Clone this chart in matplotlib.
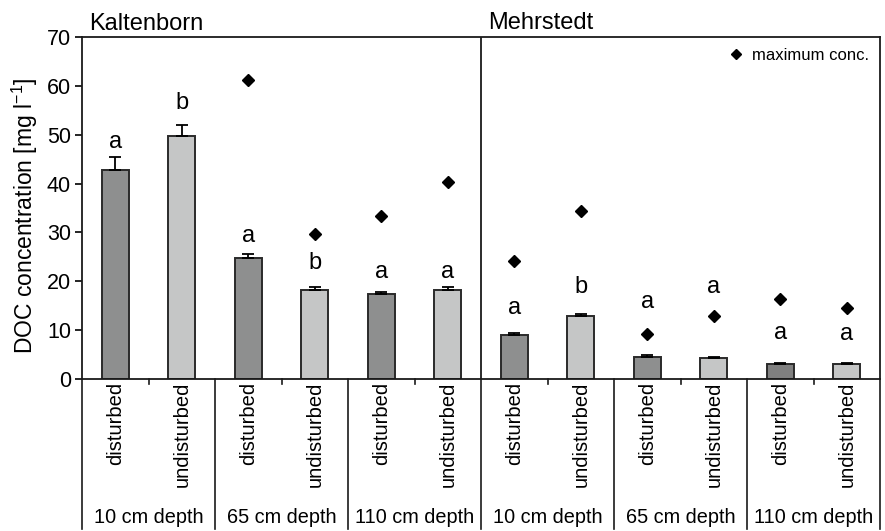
import numpy as np
import matplotlib
matplotlib.use('Agg')
import matplotlib.pyplot as plt
import matplotlib.transforms as mtransforms
from matplotlib.lines import Line2D

plt.rcParams['font.family'] = ['Liberation Sans', 'DejaVu Sans']

sites = ['Kaltenborn', 'Mehrstedt']
depths = ['10 cm depth', '65 cm depth', '110 cm depth']
treatments = ['disturbed', 'undisturbed']

# mean DOC per bar (site x depth x treatment, in plotting order)
mean_doc = [42.7, 49.7, 24.7, 18.3, 17.5, 18.3,
            9.0, 12.8, 4.6, 4.3, 3.0, 3.0]
err_doc = [2.7, 2.3, 0.8, 0.6, 0.3, 0.6,
           0.5, 0.5, 0.3, 0.3, 0.2, 0.2]
max_doc = [None, None, 61.3, 29.6, 33.3, 40.3,
           24.1, 34.3, 9.3, 12.9, 16.3, 14.6]
letters = ['a', 'b', 'a', 'b', 'a', 'a',
           'a', 'b', 'a', 'a', 'a', 'a']
letter_y = [48.5, 56.5, 29.2, 23.8, 22.0, 22.0,
            14.6, 18.8, 15.7, 18.9, 9.5, 9.2]

DARK = '#8e8f8f'
LIGHT = '#c5c6c6'

fig = plt.figure(figsize=(8.85, 5.31), dpi=100)
ax = fig.add_axes([0.0927, 0.2863, 0.9017, 0.6437])

x = np.arange(len(mean_doc))
colors = [DARK if i % 2 == 0 else LIGHT for i in x]
colors[10] = '#808080'
ax.bar(x, mean_doc, width=0.41, color=colors, edgecolor='#2a2a2a',
       linewidth=1.4, zorder=2)
ax.errorbar(x, mean_doc, yerr=[np.zeros(len(x)), err_doc], fmt='none',
            ecolor='black', elinewidth=1.3, capsize=4, capthick=1.3, zorder=3)

mx = [i for i, v in enumerate(max_doc) if v is not None]
my = [max_doc[i] for i in mx]
ax.plot(mx, my, linestyle='none', marker='D', markersize=6.5,
        color='black', zorder=4)

for i, (lt, ly) in enumerate(zip(letters, letter_y)):
    ax.text(i, ly, lt, ha='center', va='center', fontsize=17)

ax.set_xlim(-0.5, len(x) - 0.5)
ax.set_ylim(0, 70)
ax.set_yticks(range(0, 71, 10))
ax.tick_params(axis='y', labelsize=15.5, length=5, width=1.2,
               direction='out', pad=3)
ax.set_ylabel('DOC concentration [mg l$^{\\mathregular{-1}}$]', fontsize=16.5)
ax.yaxis.set_label_coords(-0.053, 0.477)

ax.set_xticks(x)
ax.set_xticklabels([treatments[i % 2] for i in x], rotation=90,
                   fontsize=14.5, va='top')
ax.tick_params(axis='x', length=0, pad=2)

for s in ax.spines.values():
    s.set_linewidth(1.3)
    s.set_color('#1a1a1a')

# site divider through the plot
ax.axvline(5.5, color='#1a1a1a', linewidth=1.3, zorder=1)

# lower category frame
trans = mtransforms.blended_transform_factory(ax.transData, ax.transAxes)
for b in np.arange(-0.5, len(x), 2):
    ax.add_line(Line2D([b, b], [0, -0.438], transform=trans, color='#1a1a1a',
                       linewidth=1.2, clip_on=False))
for b in np.arange(0.5, len(x), 2):
    ax.add_line(Line2D([b, b], [0, -0.016], transform=trans, color='#1a1a1a',
                       linewidth=1.2, clip_on=False))
for k in range(len(sites) * len(depths)):
    ax.text(2 * k + 0.5, -0.404, depths[k % 3], transform=trans,
            ha='center', va='center', fontsize=14.3)

# site titles
ax.text(-0.4, 1.005, sites[0], transform=trans, ha='left', va='bottom',
        fontsize=17)
ax.text(5.6, 1.01, sites[1], transform=trans, ha='left', va='bottom',
        fontsize=17)

handle = Line2D([], [], linestyle='none', marker='D', markersize=5.5,
                color='black')
ax.legend([handle], ['maximum conc.'], loc='upper right', frameon=False,
          fontsize=12, handletextpad=0.5, borderaxespad=0.25,
          handlelength=1.0)

fig.savefig('out.png', dpi=100)
